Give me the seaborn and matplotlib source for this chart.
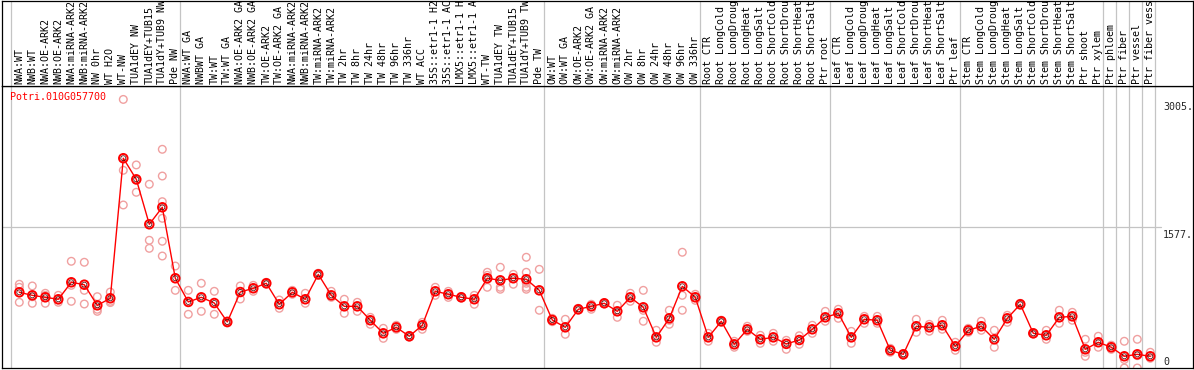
import matplotlib
matplotlib.use("Agg")
import matplotlib.pyplot as plt
import matplotlib.transforms as mtransforms
import numpy as np
import pandas as pd
import seaborn as sns

gene = "Potri.010G057700"

samples = [
    "NWA:WT", "NWB:WT", "NWA:OE-ARK2", "NWB:OE-ARK2", "NWA:miRNA-ARK2", "NWB:miRNA-ARK2",
    "NW 0hr", "WT H2O", "WT-NW", "TUA1dEY NW", "TUA1dEY+TUB15", "TUA1dY+TUB9 NW", "Pde NW",
    "NWA:WT GA", "NWBWT GA", "TW:WT", "TW:WT GA", "NWA:OE-ARK2 GA", "NWB:OE-ARK2 GA",
    "TW:OE-ARK2", "TW:OE-ARK2 GA", "NWA:miRNA-ARK2", "NWB:miRNA-ARK2", "TW:miRNA-ARK2",
    "TW:miRNA-ARK2", "TW 2hr", "TW 8hr", "TW 24hr", "TW 48hr", "TW 96hr", "TW 336hr",
    "WT ACC", "35S::etr1-1 H2", "35S::etr1-1 AC", "LMX5::etr1-1 H", "LMX5::etr1-1 A",
    "WT-TW", "TUA1dEY TW", "TUA1dEY+TUB15", "TUA1dY+TUB9 TW", "Pde TW",
    "OW:WT", "OW:WT GA", "OW:OE-ARK2", "OW:OE-ARK2 GA", "OW:miRNA-ARK2", "OW:miRNA-ARK2",
    "OW 2hr", "OW 8hr", "OW 24hr", "OW 48hr", "OW 96hr", "OW 336hr",
    "Root CTR", "Root LongCold", "Root LongDroug", "Root LongHeat", "Root LongSalt",
    "Root ShortCold", "Root ShortDrou", "Root ShortHeat", "Root ShortSalt", "Ptr root",
    "Leaf CTR", "Leaf LongCold", "Leaf LongDroug", "Leaf LongHeat", "Leaf LongSalt",
    "Leaf ShortCold", "Leaf ShortDrou", "Leaf ShortHeat", "Leaf ShortSalt", "Ptr leaf",
    "Stem CTR", "Stem LongCold", "Stem LongDroug", "Stem LongHeat", "Stem LongSalt",
    "Stem ShortCold", "Stem ShortDrou", "Stem ShortHeat", "Stem ShortSalt", "Ptr shoot",
    "Ptr xylem", "Ptr phloem", "Ptr fiber", "Ptr vessel", "Ptr fiber vess",
]

mean_expr = [
    847, 813, 791, 769, 959, 932, 701, 780, 2347, 2111, 1608, 1798, 1004,
    739, 791, 727, 515, 850, 892, 948, 713, 847, 769, 1048, 813, 690, 690, 534, 388,
    455, 355, 478, 858, 825, 791, 769, 1004, 981, 1004, 993, 869,
    537, 455, 657, 690, 724, 634, 791, 679, 343, 556, 914, 791,
    343, 523, 265, 433, 321, 343, 270, 313, 433, 567,
    612, 343, 545, 534, 198, 153, 467, 455, 478, 243,
    422, 467, 321, 556, 713, 388, 366, 567, 578, 209,
    288, 232, 131, 153, 131,
]

replicates = [
    [937, 903, 735], [918, 797, 724], [836, 812, 724], [813, 760, 735],
    [1194, 925, 746], [1183, 869, 716], [798, 657, 634], [850, 746, 732],
    [3005, 2212, 1824], [2272, 2100, 1966], [2056, 1429, 1339],
    [2447, 2148, 1861, 1675, 1418, 1253], [1141, 869],
    [869, 601], [948, 634], [858, 601], [526, 504], [918, 772], [925, 858],
    [959, 937], [761, 668], [869, 825], [836, 724], [1060, 1036], [858, 791],
    [769, 612], [735, 634], [567, 489], [444, 332], [478, 433], [365, 345],
    [511, 433], [903, 813], [858, 790], [800, 782], [813, 713],
    [1071, 1037, 903], [1127, 903, 881], [1048, 937], [1239, 1071, 948, 903, 881],
    [1104, 646],
    [556, 518], [545, 377], [668, 646], [713, 657], [730, 718], [702, 567],
    [836, 746], [869, 645, 523], [422, 288], [646, 533, 489], [1295, 813, 646],
    [825, 757],
    [388, 299], [535, 511], [299, 232], [467, 411], [366, 276], [388, 299],
    [310, 209], [361, 265], [478, 388], [634, 523],
    [657, 556], [410, 276], [578, 500], [578, 500], [220, 176], [160, 146],
    [545, 399], [489, 411], [534, 433], [288, 198],
    [444, 399], [523, 422], [422, 232], [590, 511], [724, 702], [395, 381],
    [422, 321], [646, 500], [623, 534], [321, 175, 131],
    [355, 232], [255, 209], [299, 95, 0], [321, 138, 0], [176, 109],
]

group_starts = [0, 13, 41, 53, 63, 73, 84, 85, 86, 87, 88]
y_ticks = [0, 1577, 3005]
y_tick_labels = ["0", "1577.", "3005."]
y_max = 3005

# ---------------------------------------------------------------- figure
sns.set_style("white")
plt.rcParams['font.family'] = ['DejaVu Sans Mono', 'DejaVu Sans']
FS = 7.2

W, H = 1194, 370
fig = plt.figure(figsize=(W / 100, H / 100), dpi=100)


def px_axes(x0, y0, x1, y1):
    return fig.add_axes([x0 / W, 1 - y1 / H, (x1 - x0) / W, (y1 - y0) / H])


ax = px_axes(1.5, 86, 1192.5, 368)
hd = px_axes(1.5, 0.5, 1192.5, 86)

col_px = 13.0
xmin = -(19.3 - 1.5) / col_px
xmax = xmin + (1192.5 - 1.5) / col_px
for a in (ax, hd):
    a.set_xlim(xmin, xmax)
    a.set_xticks([])
    a.set_yticks([])
    a.set_facecolor("white")
    for s in a.spines.values():
        s.set_color("black")
        s.set_linewidth(0.9)
ax.set_ylim(0, y_max * 1.05)
hd.set_ylim(0, 1)

grid_c = "#c4c4c4"
for g in group_starts:
    for a in (ax, hd):
        a.axvline(g - 0.64, color=grid_c, lw=0.9, zorder=0)
ax.axhline(y_ticks[1], xmin=0, xmax=(1161 - 1.5) / 1191, color=grid_c, lw=0.9, zorder=0)

cols = np.arange(len(samples))
rep_df = pd.DataFrame(
    [(i, v) for i, reps in enumerate(replicates) for v in reps],
    columns=["col", "value"],
)
mean_df = pd.DataFrame({"col": cols, "value": mean_expr})

sns.scatterplot(data=rep_df, x="col", y="value", ax=ax, marker="o", s=30,
                facecolor="none", edgecolor="#f0a0a0", linewidth=1.0, zorder=2,
                legend=False)
sns.lineplot(data=mean_df, x="col", y="value", ax=ax, color="red", lw=1.0,
             zorder=3, legend=False)
sns.scatterplot(data=mean_df, x="col", y="value", ax=ax, marker="o", s=38,
                facecolor="none", edgecolor="red", linewidth=1.4, zorder=4,
                legend=False)
sns.scatterplot(data=mean_df, x="col", y="value", ax=ax, marker="o", s=13,
                facecolor="none", edgecolor="#400000", linewidth=0.5, zorder=5,
                legend=False)
ax.set_xlabel("")
ax.set_ylabel("")

# header labels
for i, lab in enumerate(samples):
    hd.text(i, 1.5 / 85.5, lab, rotation=90, ha="center", va="bottom",
            fontsize=FS, color="black", clip_on=True)

# gene name
fig.text(10 / W, 1 - 97.5 / H, gene, color="red", fontsize=FS, va="center", ha="left")

# right-side value labels
x_lab = xmin + (1163 - 1.5) / col_px
for v, lab in zip(y_ticks, y_tick_labels):
    if v == 0:
        tr = mtransforms.offset_copy(ax.transData, fig=fig, x=0, y=3, units="dots")
        ax.text(x_lab, v, lab, transform=tr, fontsize=FS, va="baseline", ha="left")
    else:
        tr = mtransforms.offset_copy(ax.transData, fig=fig, x=0, y=-3, units="dots")
        ax.text(x_lab, v, lab, transform=tr, fontsize=FS, va="top", ha="left")

fig.savefig("out.png", dpi=100)
